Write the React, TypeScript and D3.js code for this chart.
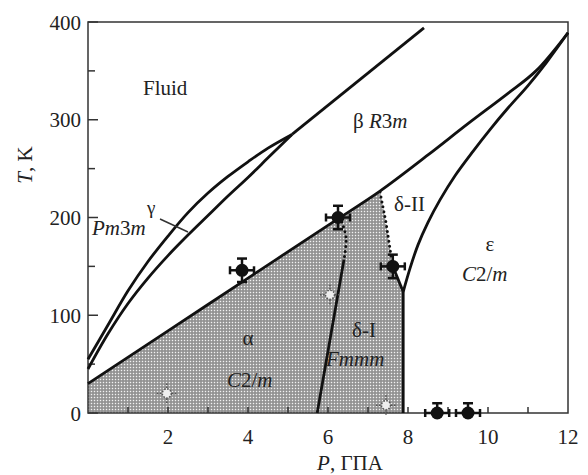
import React from "react";
import * as d3 from "d3";

type Pt = [number, number];

// axis ticks
const xTickLabels = [2, 4, 6, 8, 10, 12];
const xTickMarks = [1, 2, 3, 4, 5, 6, 7, 8, 9, 10, 11];
const yTickLabels = [0, 100, 200, 300, 400];
const yMinorTicks = [50, 150, 250, 350];

// phase boundaries (P in GPa, T in K)
const fluidGamma: Pt[] = [
  [0, 55], [0.5, 90], [1, 125], [1.5, 155], [2, 181], [2.5, 205],
  [3, 225], [3.5, 242], [4, 257], [4.5, 271], [5.1, 285],
];
const gammaBeta: Pt[] = [
  [0, 45], [0.5, 81], [1, 112], [1.5, 138], [2, 161], [2.5, 182],
  [3, 202], [3.5, 222], [4, 241], [4.5, 261], [5.1, 285],
];
const fluidBeta: Pt[] = [[5.1, 285], [8.4, 394]];
const betaLow: Pt[] = [[0, 30], [2, 84], [4, 138], [6, 192], [7.3, 227]];
const betaHigh: Pt[] = [
  [7.3, 227], [8.5, 264], [9.5, 296], [10.5, 327], [11.2, 350], [12, 389],
];
const epsilon: Pt[] = [
  [7.88, 124], [8.05, 148], [8.25, 172], [8.5, 195], [8.8, 218], [9.18, 243],
  [9.63, 268], [10.05, 290], [10.5, 312], [11, 335], [11.45, 358], [12, 389],
];
const epsVertical: Pt[] = [[7.88, 0], [7.88, 124]];
const deltaOneSolid: Pt[] = [[5.73, 0], [6.4, 157]];
const deltaOneDotted: Pt[] = [[6.4, 157], [6.45, 180], [6.3, 200]];
const deltaTwoDotted: Pt[] = [[7.3, 226], [7.45, 195], [7.55, 168], [7.62, 150]];
const deltaTwoSolid: Pt[] = [[7.62, 150], [7.88, 124]];

// experimental points (dtUp / dtDown = error bar above / below)
const points = [
  { p: 3.85, t: 146, dp: 0.3, dtUp: 12, dtDown: 12 },
  { p: 6.25, t: 200, dp: 0.3, dtUp: 12, dtDown: 12 },
  { p: 7.62, t: 150, dp: 0.3, dtUp: 12, dtDown: 12 },
  { p: 8.73, t: 0, dp: 0.3, dtUp: 10, dtDown: 0 },
  { p: 9.5, t: 0, dp: 0.3, dtUp: 10, dtDown: 0 },
];
const faintPoints = [
  { p: 1.97, t: 20 },
  { p: 7.45, t: 8 },
  { p: 6.05, t: 121 },
];

const width = 588;
const height = 475;
const x = d3.scaleLinear().domain([0, 12]).range([88, 568]);
const y = d3.scaleLinear().domain([0, 400]).range([413, 22]);

const straight = d3.line<Pt>().x((d) => x(d[0])).y((d) => y(d[1]));
const smooth = d3
  .line<Pt>()
  .x((d) => x(d[0]))
  .y((d) => y(d[1]))
  .curve(d3.curveCatmullRom.alpha(0.5));

const FONT = "'Liberation Serif', 'Times New Roman', Tinos, Times, serif";
const FS = 21;

const App: React.FC = () => {
  const shaded: Pt[] = [
    [0, 0],
    ...betaLow,
    ...deltaTwoDotted.slice(1),
    ...deltaTwoSolid.slice(1),
    [7.88, 0],
  ];

  const lineStyle = { fill: "none", stroke: "#111", strokeWidth: 2.8 };
  const dotStyle = {
    fill: "none",
    stroke: "#111",
    strokeWidth: 3,
    strokeDasharray: "0 5",
    strokeLinecap: "round" as const,
  };

  return (
    <svg
      width={width}
      height={height}
      style={{ position: "absolute", left: 0, top: 0, background: "#fff", fontFamily: FONT }}
    >
      <defs>
        <pattern id="dots" width={3} height={3} patternUnits="userSpaceOnUse">
          <rect width={3} height={3} fill="#8f8f8f" />
          <rect x={0.8} y={0.8} width={1.4} height={1.4} fill="#f2f2f2" />
        </pattern>
      </defs>

      {/* shaded alpha + delta-I region */}
      <path d={straight(shaded) + "Z"} fill="url(#dots)" stroke="none" />

      {/* frame */}
      <rect
        x={x(0)}
        y={y(400)}
        width={x(12) - x(0)}
        height={y(0) - y(400)}
        fill="none"
        stroke="#333"
        strokeWidth={1.5}
      />

      {/* y ticks */}
      {yTickLabels.map((t) => (
        <g key={"yt" + t}>
          <line x1={x(0)} x2={x(0) + 10} y1={y(t)} y2={y(t)} stroke="#333" strokeWidth={1.5} />
          <text x={81} y={y(t)} dy="0.36em" textAnchor="end" fontSize={FS} fill="#222">
            {t}
          </text>
        </g>
      ))}
      {yMinorTicks.map((t) => (
        <line key={"ym" + t} x1={x(0)} x2={x(0) + 7} y1={y(t)} y2={y(t)} stroke="#333" strokeWidth={1.5} />
      ))}

      {/* x ticks */}
      {xTickMarks.map((p) => (
        <line key={"xm" + p} x1={x(p)} x2={x(p)} y1={y(0)} y2={y(0) - 6} stroke="#333" strokeWidth={1.5} />
      ))}
      {xTickLabels.map((p) => (
        <text key={"xl" + p} x={x(p)} y={444} textAnchor="middle" fontSize={FS} fill="#222">
          {p}
        </text>
      ))}

      {/* axis titles */}
      <text x={350} y={470} textAnchor="middle" fontSize={FS} fill="#222">
        <tspan fontStyle="italic">P</tspan>, ГПА
      </text>
      <text
        transform="translate(32,165) rotate(-90)"
        textAnchor="middle"
        fontSize={FS}
        fill="#222"
      >
        <tspan fontStyle="italic">T</tspan>, K
      </text>

      {/* boundaries */}
      <path d={smooth(fluidGamma) ?? ""} style={lineStyle} />
      <path d={smooth(gammaBeta) ?? ""} style={lineStyle} />
      <path d={straight(fluidBeta) ?? ""} style={lineStyle} />
      <path d={smooth([...betaLow, ...betaHigh.slice(1)]) ?? ""} style={lineStyle} />
      <path d={smooth(epsilon) ?? ""} style={lineStyle} />
      <path d={straight(epsVertical) ?? ""} style={lineStyle} />
      <path d={straight(deltaOneSolid) ?? ""} style={lineStyle} />
      <path d={straight(deltaTwoSolid) ?? ""} style={lineStyle} />
      <path d={smooth(deltaOneDotted.slice().reverse()) ?? ""} style={dotStyle} />
      <path d={straight(deltaTwoDotted) ?? ""} style={dotStyle} />

      {/* faint (hollow) points */}
      {faintPoints.map((d, i) => {
        const cx = x(d.p);
        const cy = y(d.t);
        return (
          <g key={"f" + i} stroke="#555" strokeWidth={1.5} strokeDasharray="1.5 1.5" fill="none">
            <line x1={cx - 10} x2={cx + 10} y1={cy} y2={cy} />
            <line x1={cx} x2={cx} y1={cy - 10} y2={cy + 10} />
            <circle cx={cx} cy={cy} r={4.5} fill="#eee" />
          </g>
        );
      })}

      {/* experimental points */}
      {points.map((d, i) => {
        const cx = x(d.p);
        const cy = y(d.t);
        const x0 = x(d.p - d.dp);
        const x1 = x(d.p + d.dp);
        const y0 = y(d.t + d.dtUp);
        const y1 = y(d.t - d.dtDown);
        return (
          <g key={"m" + i} stroke="#111" strokeWidth={2.5}>
            <line x1={x0} x2={x1} y1={cy} y2={cy} />
            <line x1={x0} x2={x0} y1={cy - 4} y2={cy + 4} />
            <line x1={x1} x2={x1} y1={cy - 4} y2={cy + 4} />
            <line x1={cx} x2={cx} y1={y0} y2={y1} />
            <line x1={cx - 5} x2={cx + 5} y1={y0} y2={y0} />
            {d.dtDown > 0 && <line x1={cx - 5} x2={cx + 5} y1={y1} y2={y1} />}
            <circle cx={cx} cy={cy} r={6.5} fill="#111" stroke="none" />
          </g>
        );
      })}

      {/* gamma label leader */}
      <line x1={160} y1={219} x2={188} y2={232} stroke="#333" strokeWidth={1.5} />

      {/* phase labels */}
      <g fontSize={FS} fill="#222">
        <text x={143} y={95}>Fluid</text>
        <text x={353} y={128}>
          β <tspan fontStyle="italic">R</tspan>3<tspan fontStyle="italic">m</tspan>
        </text>
        <text x={147} y={214} fontSize={19}>γ</text>
        <text x={92} y={235}>
          <tspan fontStyle="italic">Pm</tspan>3<tspan fontStyle="italic">m</tspan>
        </text>
        <text x={394} y={211}>δ-II</text>
        <text x={490} y={251} textAnchor="middle">ε</text>
        <text x={462} y={281}>
          <tspan fontStyle="italic">C</tspan>2/<tspan fontStyle="italic">m</tspan>
        </text>
        <text x={248} y={345} textAnchor="middle">α</text>
        <text x={227} y={387}>
          <tspan fontStyle="italic">C</tspan>2/<tspan fontStyle="italic">m</tspan>
        </text>
        <text x={352} y={337}>δ-I</text>
        <text x={326} y={366} fontStyle="italic">Fmmm</text>
      </g>
    </svg>
  );
};

export default App;
